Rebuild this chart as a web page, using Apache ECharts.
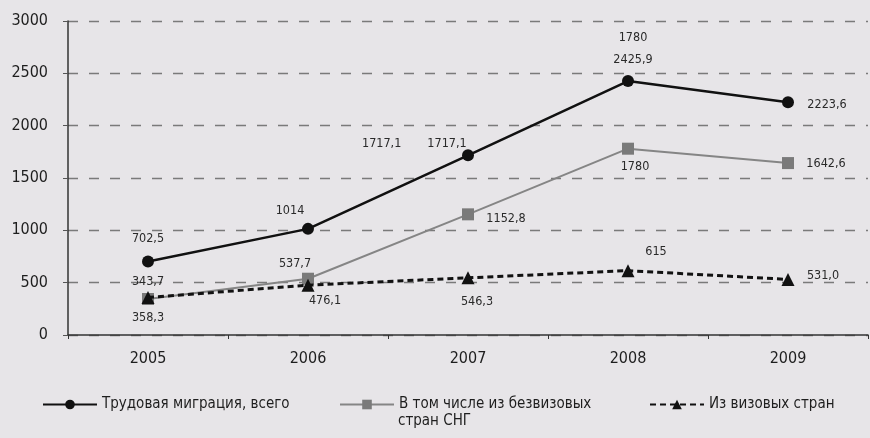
<!DOCTYPE html>
<html><head><meta charset="utf-8">
<script src="https://cdn.jsdelivr.net/npm/echarts@6/dist/echarts.min.js"></script>
<style>html,body{margin:0;padding:0;background:#e7e5e8}#c{width:870px;height:438px}</style>
</head><body><div id="c"></div>
<script>
const years = ['2005','2006','2007','2008','2009'];
const totalMigration = [702.5, 1014, 1717.1, 2425.9, 2223.6];
const visaFreeCIS = [343.7, 537.7, 1152.8, 1780, 1642.6];
const visaCountries = [358.3, 476.1, 546.3, 615, 531.0];
const totalLabels = ['702,5', '1014', '1717,1', '1780\n2425,9', '2223,6'];
const cisLabels = ['343,7', '537,7', '1152,8', '1780', '1642,6'];
const visaLabels = ['358,3', '476,1', '546,3', '615', '531,0'];
const yTicks = [0, 500, 1000, 1500, 2000, 2500, 3000];
const seriesNames = ['Трудовая миграция, всего', 'В том числе из безвизовых стран СНГ', 'Из визовых стран'];
const strayLabel = '1717,1';

const FONT = "'Liberation Sans Narrow','DejaVu Sans Condensed','Roboto Condensed',sans-serif";
const totalOff = [[0,-23],[-18,-18],[-21,-12],[5,-32],[39,2]];
const cisOff = [[0,-17],[-13,-15],[38,4],[7,18],[38,1]];
const visaOff = [[0,20],[17,16],[9,24],[28,-19],[35,-4]];

function mk(vals, labels, offs){
  return vals.map((v,i)=>({value:v, label:{formatter:labels[i], offset:offs[i]}}));
}
const lbl = {show:true, position:'inside', fontFamily:FONT, fontSize:12.5, color:'#2a2a2a', lineHeight:22};

const chart = echarts.init(document.getElementById('c'), null, {renderer:'canvas'});
chart.setOption({
  backgroundColor:'#e7e5e8',
  animation:false,
  grid:{left:68, right:2, top:21, bottom:103, containLabel:false},
  xAxis:{type:'category', data:years, boundaryGap:true,
    axisLine:{lineStyle:{color:'#333', width:1.5}},
    axisTick:{show:true, length:4, lineStyle:{color:'#333'}},
    axisLabel:{fontFamily:FONT, fontSize:16, color:'#1e1e1e', margin:16}},
  yAxis:{type:'value', min:0, max:3000, interval:500,
    axisLine:{show:true, lineStyle:{color:'#333', width:1.5}},
    axisTick:{show:true, length:5, lineStyle:{color:'#555'}},
    axisLabel:{fontFamily:FONT, fontSize:16, color:'#1e1e1e', margin:20,
      formatter:v=>yTicks.includes(v)?String(v):''},
    splitLine:{show:true, lineStyle:{color:'#7a7a7a', width:1.3, type:[10,11]}}},
  legend:[
    {data:[seriesNames[0]], left:37, top:392, itemWidth:54, itemHeight:12,
     textStyle:{fontFamily:FONT, fontSize:15, color:'#1e1e1e'}},
    {data:[{name:seriesNames[1]}], left:334, top:392, itemWidth:54, itemHeight:12,
     formatter:()=> 'В том числе из безвизовых',
     textStyle:{fontFamily:FONT, fontSize:15, color:'#1e1e1e'}},
    {data:[seriesNames[2]], left:644, top:392, itemWidth:54, itemHeight:12,
     textStyle:{fontFamily:FONT, fontSize:15, color:'#1e1e1e'}}
  ],
  graphic:[
    {type:'text', left:398, top:414, style:{text:'стран СНГ', font:'15px '+FONT, fill:'#1e1e1e'}},
    {type:'text', left:362, top:137, style:{text:strayLabel, font:'12.5px '+FONT, fill:'#2a2a2a'}}
  ],
  series:[
    {name:seriesNames[1], type:'line', data:mk(visaFreeCIS, cisLabels, cisOff), z:2,
     symbol:'rect', symbolSize:12, itemStyle:{color:'#7a7a7a'},
     lineStyle:{color:'#858585', width:2}, label:lbl},
    {name:seriesNames[0], type:'line', data:mk(totalMigration, totalLabels, totalOff), z:3,
     symbol:'circle', symbolSize:12, itemStyle:{color:'#111'},
     lineStyle:{color:'#111', width:2.5}, label:lbl},
    {name:seriesNames[2], type:'line', data:mk(visaCountries, visaLabels, visaOff), z:4,
     symbol:'triangle', symbolSize:13, itemStyle:{color:'#111'},
     lineStyle:{color:'#111', width:3, type:[6,4]}, label:lbl}
  ]
});
</script></body></html>
